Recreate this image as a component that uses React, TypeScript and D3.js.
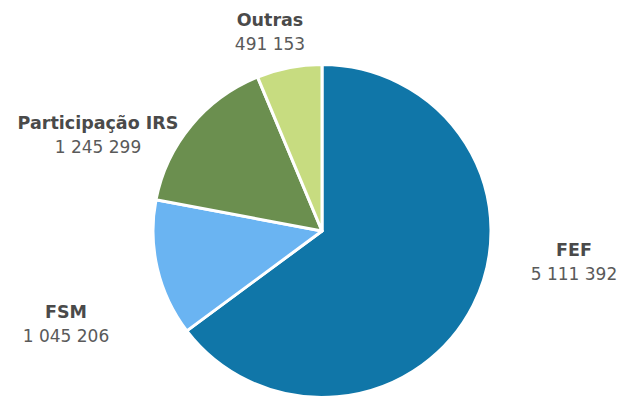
import React from "react";
import * as d3 from "d3";

const categories = ["FEF", "FSM", "Participação IRS", "Outras"];
const values = [5111392, 1045206, 1245299, 491153];
const valueLabels = ["5 111 392", "1 045 206", "1 245 299", "491 153"];
const colors = ["#1076a8", "#6ab4f2", "#6b8f4f", "#c7dc80"];
const labelPos: [number, number][] = [[574, 256], [66, 318], [98, 129], [270, 26]];

export default function App() {
  const W = 619, H = 403;
  const cx = 322, cy = 231, r = 169;
  const pie = d3.pie<number>().sort(null).value((d) => d)(values);
  const arc = d3.arc<d3.PieArcDatum<number>>().innerRadius(0).outerRadius(r);
  return (
    <svg width={W} height={H} style={{ position: "absolute", left: 0, top: 0, background: "#fff" }}>
      <g transform={`translate(${cx},${cy}) scale(1,0.985)`}>
        {pie.map((p, i) => (
          <path key={i} d={arc(p) || ""} fill={colors[i]} stroke="#fff" strokeWidth={3} strokeLinejoin="round" />
        ))}
      </g>
      {categories.map((c, i) => (
        <g key={c} fontFamily="DejaVu Sans, Verdana, sans-serif" textAnchor="middle">
          <text x={labelPos[i][0]} y={labelPos[i][1]} fontSize={17.5} fontWeight="bold" fill="#4a4a4a">{c}</text>
          <text x={labelPos[i][0]} y={labelPos[i][1] + 24} fontSize={17} fill="#5a5a5a">{valueLabels[i]}</text>
        </g>
      ))}
    </svg>
  );
}
